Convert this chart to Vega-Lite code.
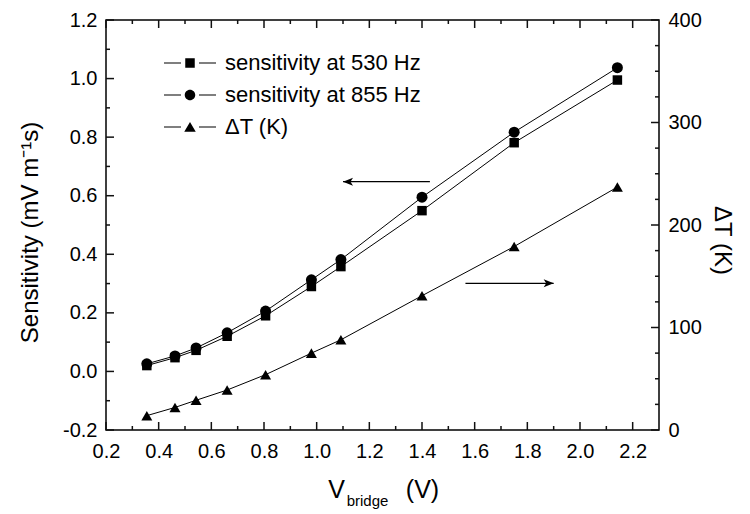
{
  "$schema": "https://vega.github.io/schema/vega-lite/v6.json",
  "width": 553,
  "height": 410,
  "padding": {"left": 18, "top": 10, "right": 5, "bottom": 5},
  "background": "white",
  "config": {
    "font": "Liberation Sans",
    "view": {"stroke": "black", "strokeWidth": 1.5},
    "axis": {
      "grid": false,
      "labelColor": "black",
      "titleColor": "black",
      "labelFontSize": 20,
      "titleFontSize": 24,
      "titleFontWeight": "normal",
      "labelFlush": false,
      "labelOverlap": false
    }
  },
  "datasets": {
    "sens": [
      {"V": 0.355, "series": "530", "S": 0.020},
      {"V": 0.462, "series": "530", "S": 0.047},
      {"V": 0.542, "series": "530", "S": 0.072},
      {"V": 0.66, "series": "530", "S": 0.120},
      {"V": 0.806, "series": "530", "S": 0.190},
      {"V": 0.98, "series": "530", "S": 0.290},
      {"V": 1.092, "series": "530", "S": 0.358},
      {"V": 1.40, "series": "530", "S": 0.549},
      {"V": 1.75, "series": "530", "S": 0.781},
      {"V": 2.142, "series": "530", "S": 0.995},
      {"V": 0.355, "series": "855", "S": 0.026},
      {"V": 0.462, "series": "855", "S": 0.053},
      {"V": 0.542, "series": "855", "S": 0.080},
      {"V": 0.66, "series": "855", "S": 0.132},
      {"V": 0.806, "series": "855", "S": 0.206},
      {"V": 0.98, "series": "855", "S": 0.313},
      {"V": 1.092, "series": "855", "S": 0.382},
      {"V": 1.40, "series": "855", "S": 0.595},
      {"V": 1.75, "series": "855", "S": 0.817},
      {"V": 2.142, "series": "855", "S": 1.037}
    ],
    "dt": [
      {"V": 0.355, "T": 14},
      {"V": 0.462, "T": 22},
      {"V": 0.542, "T": 29},
      {"V": 0.66, "T": 39},
      {"V": 0.806, "T": 54},
      {"V": 0.98, "T": 75},
      {"V": 1.092, "T": 88},
      {"V": 1.40, "T": 131},
      {"V": 1.75, "T": 179},
      {"V": 2.142, "T": 237}
    ],
    "xmajor": [{"v": 0.2},{"v": 0.4},{"v": 0.6},{"v": 0.8},{"v": 1.0},{"v": 1.2},{"v": 1.4},{"v": 1.6},{"v": 1.8},{"v": 2.0},{"v": 2.2}],
    "xminor": [{"v": 0.3},{"v": 0.5},{"v": 0.7},{"v": 0.9},{"v": 1.1},{"v": 1.3},{"v": 1.5},{"v": 1.7},{"v": 1.9},{"v": 2.1}],
    "ymajor": [{"v": -0.2},{"v": 0.0},{"v": 0.2},{"v": 0.4},{"v": 0.6},{"v": 0.8},{"v": 1.0},{"v": 1.2}],
    "yminor": [{"v": -0.1},{"v": 0.1},{"v": 0.3},{"v": 0.5},{"v": 0.7},{"v": 0.9},{"v": 1.1}],
    "tmajor": [{"v": 0},{"v": 100},{"v": 200},{"v": 300},{"v": 400}],
    "tminor": [{"v": 25},{"v": 50},{"v": 75},{"v": 125},{"v": 150},{"v": 175},{"v": 225},{"v": 250},{"v": 275},{"v": 325},{"v": 350},{"v": 375}],
    "legend": [
      {"series": "sensitivity at 530 Hz"},
      {"series": "sensitivity at 855 Hz"},
      {"series": "\u00a0\u00a0ΔT (K)"}
    ],
    "arrows": [
      {"x1": 1.43, "x2": 1.1, "y": 0.648, "dir": "left"},
      {"x1": 1.565, "x2": 1.9, "y": 0.301, "dir": "right"}
    ]
  },
  "layer": [
    {
      "layer": [
        {
          "data": {"name": "sens"},
          "mark": {"type": "line", "color": "black", "strokeWidth": 1},
          "encoding": {
            "x": {
              "field": "V", "type": "quantitative",
              "scale": {"domain": [0.2, 2.3], "nice": false, "zero": false},
              "axis": {
                "orient": "bottom",
                "values": [0.2,0.4,0.6,0.8,1.0,1.2,1.4,1.6,1.8,2.0,2.2],
                "format": ".1f",
                "domain": false,
                "ticks": false,
                "tickSize": 0,
                "labelPadding": 11,
                "title": "V",
                "titleFontSize": 25,
                "titleBaseline": "alphabetic",
                "titleAlign": "center",
                "titleX": 230,
                "titleY": 67
              }
            },
            "y": {
              "field": "S", "type": "quantitative",
              "scale": {"domain": [-0.2, 1.2], "nice": false, "zero": false},
              "axis": {
                "orient": "left",
                "values": [-0.2,0,0.2,0.4,0.6,0.8,1.0,1.2],
                "labelExpr": "replace(format(datum.value,'.1f'),'\u2212','-')",
                "domain": false,
                "ticks": false,
                "tickSize": 0,
                "labelPadding": 9,
                "title": "Sensitivity (mV m\u207b\u00b9s)",
                "titleAngle": -90,
                "titleAlign": "center",
                "titleBaseline": "alphabetic",
                "titleX": -69,
                "titleY": 212
              }
            },
            "detail": {"field": "series"}
          }
        },
        {
          "data": {"name": "sens"},
          "transform": [{"filter": "datum.series == '530'"}],
          "mark": {"type": "point", "shape": "square", "filled": true, "color": "black", "opacity": 1, "size": 90},
          "encoding": {
            "x": {"field": "V", "type": "quantitative"},
            "y": {"field": "S", "type": "quantitative"}
          }
        },
        {
          "data": {"name": "sens"},
          "transform": [{"filter": "datum.series == '855'"}],
          "mark": {"type": "point", "shape": "circle", "filled": true, "color": "black", "opacity": 1, "size": 121},
          "encoding": {
            "x": {"field": "V", "type": "quantitative"},
            "y": {"field": "S", "type": "quantitative"}
          }
        }
      ]
    },
    {
      "layer": [
        {
          "data": {"name": "dt"},
          "mark": {"type": "line", "color": "black", "strokeWidth": 1},
          "encoding": {
            "x": {
              "field": "V", "type": "quantitative",
              "scale": {"domain": [0.2, 2.3], "nice": false, "zero": false},
              "axis": {
                "orient": "bottom",
                "labels": false,
                "ticks": false,
                "domain": false,
                "title": "bridge",
                "titleFontSize": 15,
                "titleBaseline": "alphabetic",
                "titleAlign": "center",
                "titleX": 261,
                "titleY": 75
              }
            },
            "y": {
              "field": "T", "type": "quantitative",
              "scale": {"domain": [0, 400], "nice": false, "zero": false},
              "axis": {
                "orient": "right",
                "values": [0,100,200,300,400],
                "format": "d",
                "domain": false,
                "ticks": false,
                "tickSize": 0,
                "labelPadding": 9,
                "title": "ΔT (K)",
                "titleAngle": 90,
                "titleAlign": "center",
                "titleBaseline": "alphabetic",
                "titleX": 55,
                "titleY": 220
              }
            }
          }
        },
        {
          "data": {"name": "dt"},
          "mark": {"type": "point", "shape": "triangle-up", "filled": true, "color": "black", "opacity": 1, "size": 121},
          "encoding": {
            "x": {"field": "V", "type": "quantitative"},
            "y": {"field": "T", "type": "quantitative"}
          }
        }
      ]
    },
    {
      "data": {"name": "legend"},
      "transform": [{"filter": "datum.series == 'none'"}],
      "mark": {"type": "point", "filled": true, "color": "black", "opacity": 1},
      "encoding": {
        "shape": {
          "field": "series", "type": "nominal",
          "scale": {
            "domain": ["sensitivity at 530 Hz", "sensitivity at 855 Hz", "\u00a0\u00a0ΔT (K)"],
            "range": [
              "M-5.2,-0.1H-1.8V0.1H-5.2ZM1.8,-0.1H5.2V0.1H1.8ZM-0.95,-0.95H0.95V0.95H-0.95Z",
              "M-5.2,-0.1H-1.8V0.1H-5.2ZM1.8,-0.1H5.2V0.1H1.8ZM-1.05,0A1.05,1.05 0 1,0 1.05,0A1.05,1.05 0 1,0 -1.05,0Z",
              "M-5.2,-0.1H-1.8V0.1H-5.2ZM1.8,-0.1H5.2V0.1H1.8ZM0,-1L1.15,0.95L-1.15,0.95Z"
            ]
          },
          "legend": {
            "orient": "none",
            "legendX": 73,
            "legendY": 32,
            "title": null,
            "padding": 0,
            "symbolSize": 100,
            "symbolFillColor": "black",
            "symbolOpacity": 1,
            "labelFont": "Liberation Sans",
            "labelFontSize": 22,
            "labelColor": "black",
            "labelLimit": 400,
            "labelOffset": 24,
            "rowPadding": 10
          }
        }
      }
    },
    {
      "data": {"name": "arrows"},
      "layer": [
        {
          "mark": {"type": "rule", "color": "black", "strokeWidth": 1.2},
          "encoding": {
            "x": {
              "field": "x1", "type": "quantitative",
              "scale": {"domain": [0.2, 2.3], "nice": false, "zero": false},
              "axis": {
                "orient": "bottom",
                "labels": false,
                "ticks": false,
                "domain": false,
                "title": "(V)",
                "titleFontSize": 25,
                "titleBaseline": "alphabetic",
                "titleAlign": "center",
                "titleX": 316,
                "titleY": 67
              }
            },
            "x2": {"field": "x2"},
            "y": {"field": "y", "type": "quantitative", "scale": {"domain": [-0.2, 1.2], "nice": false, "zero": false}, "axis": null}
          }
        },
        {
          "transform": [{"filter": "datum.dir == 'left'"}],
          "mark": {"type": "point", "shape": "M0,0L2,-0.8L1.5,0L2,0.8Z", "filled": true, "color": "black", "opacity": 1, "size": 100},
          "encoding": {
            "x": {"field": "x2", "type": "quantitative"},
            "y": {"field": "y", "type": "quantitative"}
          }
        },
        {
          "transform": [{"filter": "datum.dir == 'right'"}],
          "mark": {"type": "point", "shape": "M0,0L-2,-0.8L-1.5,0L-2,0.8Z", "filled": true, "color": "black", "opacity": 1, "size": 100},
          "encoding": {
            "x": {"field": "x2", "type": "quantitative"},
            "y": {"field": "y", "type": "quantitative"}
          }
        }
      ]
    },
    {
      "layer": [
        {
          "data": {"name": "xmajor"},
          "mark": {"type": "rule", "color": "#111111", "strokeWidth": 1.5, "y2Offset": -8},
          "encoding": {
            "x": {"field": "v", "type": "quantitative", "scale": {"domain": [0.2, 2.3], "nice": false, "zero": false}, "axis": null},
            "y": {"datum": -0.2, "type": "quantitative", "scale": {"domain": [-0.2, 1.2], "nice": false, "zero": false}, "axis": null},
            "y2": {"datum": -0.2}
          }
        },
        {
          "data": {"name": "xmajor"},
          "mark": {"type": "rule", "color": "#111111", "strokeWidth": 1.5, "y2Offset": 8},
          "encoding": {
            "x": {"field": "v", "type": "quantitative"},
            "y": {"datum": 1.2, "type": "quantitative"},
            "y2": {"datum": 1.2}
          }
        },
        {
          "data": {"name": "xminor"},
          "mark": {"type": "rule", "color": "#111111", "strokeWidth": 1.5, "y2Offset": -4},
          "encoding": {
            "x": {"field": "v", "type": "quantitative"},
            "y": {"datum": -0.2, "type": "quantitative"},
            "y2": {"datum": -0.2}
          }
        },
        {
          "data": {"name": "xminor"},
          "mark": {"type": "rule", "color": "#111111", "strokeWidth": 1.5, "y2Offset": 4},
          "encoding": {
            "x": {"field": "v", "type": "quantitative"},
            "y": {"datum": 1.2, "type": "quantitative"},
            "y2": {"datum": 1.2}
          }
        },
        {
          "data": {"name": "ymajor"},
          "mark": {"type": "rule", "color": "#111111", "strokeWidth": 1.5, "x2Offset": 8},
          "encoding": {
            "x": {"datum": 0.2, "type": "quantitative"},
            "x2": {"datum": 0.2},
            "y": {"field": "v", "type": "quantitative"}
          }
        },
        {
          "data": {"name": "yminor"},
          "mark": {"type": "rule", "color": "#111111", "strokeWidth": 1.5, "x2Offset": 4},
          "encoding": {
            "x": {"datum": 0.2, "type": "quantitative"},
            "x2": {"datum": 0.2},
            "y": {"field": "v", "type": "quantitative"}
          }
        }
      ]
    },
    {
      "layer": [
        {
          "data": {"name": "tmajor"},
          "mark": {"type": "rule", "color": "#111111", "strokeWidth": 1.5, "x2Offset": -8},
          "encoding": {
            "x": {"datum": 2.3, "type": "quantitative", "scale": {"domain": [0.2, 2.3], "nice": false, "zero": false}, "axis": null},
            "x2": {"datum": 2.3},
            "y": {"field": "v", "type": "quantitative", "scale": {"domain": [0, 400], "nice": false, "zero": false}, "axis": null}
          }
        },
        {
          "data": {"name": "tminor"},
          "mark": {"type": "rule", "color": "#111111", "strokeWidth": 1.5, "x2Offset": -4},
          "encoding": {
            "x": {"datum": 2.3, "type": "quantitative"},
            "x2": {"datum": 2.3},
            "y": {"field": "v", "type": "quantitative"}
          }
        }
      ]
    }
  ],
  "resolve": {
    "scale": {"y": "independent"},
    "axis": {"x": "independent", "y": "independent"}
  }
}
